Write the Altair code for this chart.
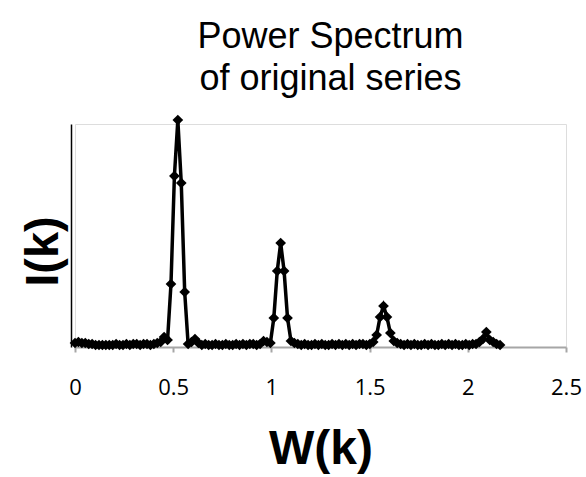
import math
import altair as alt
import pandas as pd

# Power spectrum ordinates I(k), one per Fourier frequency W(k) = 2*pi*k/360
intensity = [
    4, 5, 4, 4, 3, 3, 2, 2, 2, 2,
    2, 2, 3, 2, 2, 3, 2, 3, 3, 2,
    3, 3, 2, 3, 4, 5, 10, 7, 63, 171,
    227, 164, 55, 3, 5, 8, 4, 2, 3, 2,
    2, 3, 2, 2, 3, 2, 2, 3, 2, 3,
    2, 3, 3, 2, 3, 6, 5, 4, 29, 76,
    104, 76, 29, 6, 4, 3, 2, 3, 2, 2,
    3, 2, 3, 2, 2, 3, 2, 3, 2, 3,
    2, 3, 2, 3, 3, 2, 3, 5, 12, 30,
    41, 30, 14, 6, 4, 3, 2, 3, 2, 3,
    2, 2, 3, 2, 3, 2, 2, 3, 2, 3,
    2, 3, 2, 2, 3, 2, 3, 3, 5, 8,
    15, 7, 5, 3, 2,
]
k_index = list(range(len(intensity)))
frequency = [2 * math.pi * k / 360 for k in k_index]

x_ticks = [0, 0.5, 1, 1.5, 2, 2.5]

df = pd.DataFrame({"W": frequency, "I": intensity})

chart = (
    alt.Chart(df)
    .mark_line(
        color="black",
        strokeWidth=3.5,
        point=alt.OverlayMarkDef(shape="diamond", size=115, filled=True, color="black"),
    )
    .encode(
        x=alt.X(
            "W:Q",
            scale=alt.Scale(domain=[0, 2.5], nice=False, zero=False),
            axis=alt.Axis(
                values=x_ticks,
                format="~g",
                title="W(k)",
                grid=False,
                domainColor="#a6a6a6",
                domainWidth=2,
                tickColor="#a6a6a6",
                tickSize=5,
                tickWidth=2,
                labelFont="Open Sans",
                labelFontSize=22,
                labelColor="black",
                labelPadding=25,
                labelFlush=False,
                titleFont="Liberation Sans",
                titleFontSize=48,
                titleFontWeight="bold",
                titleColor="black",
                titlePadding=27,
            ),
        ),
        y=alt.Y(
            "I:Q",
            scale=alt.Scale(domain=[0, 223], nice=False),
            axis=alt.Axis(
                title="I(k)",
                grid=False,
                labels=False,
                ticks=False,
                domainColor="black",
                domainWidth=1.5,
                offset=4,
                titleFont="Liberation Sans",
                titleFontSize=47,
                titleFontWeight="bold",
                titleColor="black",
                titlePadding=4,
                titleY=127,
            ),
        ),
    )
    .properties(
        width=491,
        height=223,
        title=alt.TitleParams(
            text=["Power Spectrum", "of original series"],
            font="Liberation Sans",
            fontSize=36,
            fontWeight="normal",
            color="black",
            anchor="middle",
            dx=10,
            offset=15,
            lineHeight=42,
        ),
        autosize=alt.AutoSizeParams(type="none"),
        padding={"left": 75, "top": 124, "right": 20, "bottom": 130},
    )
    .configure_view(stroke=None)
    .configure(background="white")
)

chart.save("out.html", embed_options={"renderer": "svg", "actions": False})
